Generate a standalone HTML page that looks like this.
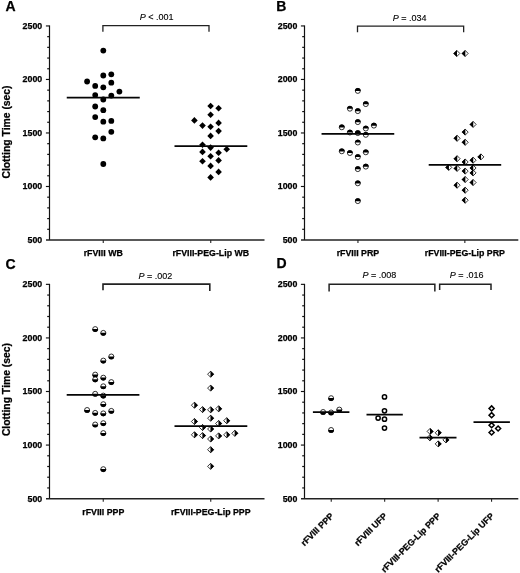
<!DOCTYPE html>
<html><head><meta charset="utf-8"><title>Clotting time figure</title>
<style>html,body{margin:0;padding:0;background:#fff;width:520px;height:573px;overflow:hidden;}svg{display:block;font-family:"Liberation Sans",sans-serif;font-kerning:none;filter:grayscale(1);}</style></head><body>
<svg width="520" height="573" viewBox="0 0 520 573">
<rect width="520" height="573" fill="#fff"/>
<text x="5.6" y="10.9" font-size="14" font-weight="bold" font-family="Liberation Sans, sans-serif" fill="#000" stroke="#000" stroke-width="0.25" stroke-linejoin="round">A</text>
<text transform="translate(9.6,132.00) rotate(-90)" text-anchor="middle" font-size="10.35" font-weight="bold" font-family="Liberation Sans, sans-serif" fill="#000" stroke="#000" stroke-width="0.25" stroke-linejoin="round">Clotting Time (sec)</text>
<line x1="49.5" y1="25.45" x2="49.5" y2="240.00" stroke="#111" stroke-width="1.2"/>
<line x1="46.00" y1="240.00" x2="264.5" y2="240.00" stroke="#222" stroke-width="1.5"/>
<line x1="47.20" y1="229.30" x2="49.5" y2="229.30" stroke="#111" stroke-width="1.2"/>
<line x1="47.20" y1="218.59" x2="49.5" y2="218.59" stroke="#111" stroke-width="1.2"/>
<line x1="47.20" y1="207.89" x2="49.5" y2="207.89" stroke="#111" stroke-width="1.2"/>
<line x1="47.20" y1="197.19" x2="49.5" y2="197.19" stroke="#111" stroke-width="1.2"/>
<line x1="45.90" y1="186.49" x2="49.5" y2="186.49" stroke="#111" stroke-width="1.15"/>
<line x1="47.20" y1="175.78" x2="49.5" y2="175.78" stroke="#111" stroke-width="1.2"/>
<line x1="47.20" y1="165.08" x2="49.5" y2="165.08" stroke="#111" stroke-width="1.2"/>
<line x1="47.20" y1="154.38" x2="49.5" y2="154.38" stroke="#111" stroke-width="1.2"/>
<line x1="47.20" y1="143.68" x2="49.5" y2="143.68" stroke="#111" stroke-width="1.2"/>
<line x1="45.90" y1="132.97" x2="49.5" y2="132.97" stroke="#111" stroke-width="1.15"/>
<line x1="47.20" y1="122.27" x2="49.5" y2="122.27" stroke="#111" stroke-width="1.2"/>
<line x1="47.20" y1="111.57" x2="49.5" y2="111.57" stroke="#111" stroke-width="1.2"/>
<line x1="47.20" y1="100.87" x2="49.5" y2="100.87" stroke="#111" stroke-width="1.2"/>
<line x1="47.20" y1="90.16" x2="49.5" y2="90.16" stroke="#111" stroke-width="1.2"/>
<line x1="45.90" y1="79.46" x2="49.5" y2="79.46" stroke="#111" stroke-width="1.15"/>
<line x1="47.20" y1="68.76" x2="49.5" y2="68.76" stroke="#111" stroke-width="1.2"/>
<line x1="47.20" y1="58.06" x2="49.5" y2="58.06" stroke="#111" stroke-width="1.2"/>
<line x1="47.20" y1="47.35" x2="49.5" y2="47.35" stroke="#111" stroke-width="1.2"/>
<line x1="47.20" y1="36.65" x2="49.5" y2="36.65" stroke="#111" stroke-width="1.2"/>
<line x1="45.90" y1="25.95" x2="49.5" y2="25.95" stroke="#111" stroke-width="1.15"/>
<text x="42.20" y="242.95" text-anchor="end" font-size="8.8" font-weight="bold" font-family="Liberation Sans, sans-serif" fill="#000" stroke="#000" stroke-width="0.25" stroke-linejoin="round">500</text>
<text x="42.20" y="189.44" text-anchor="end" font-size="8.8" font-weight="bold" font-family="Liberation Sans, sans-serif" fill="#000" stroke="#000" stroke-width="0.25" stroke-linejoin="round">1000</text>
<text x="42.20" y="135.92" text-anchor="end" font-size="8.8" font-weight="bold" font-family="Liberation Sans, sans-serif" fill="#000" stroke="#000" stroke-width="0.25" stroke-linejoin="round">1500</text>
<text x="42.20" y="82.41" text-anchor="end" font-size="8.8" font-weight="bold" font-family="Liberation Sans, sans-serif" fill="#000" stroke="#000" stroke-width="0.25" stroke-linejoin="round">2000</text>
<text x="42.20" y="28.90" text-anchor="end" font-size="8.8" font-weight="bold" font-family="Liberation Sans, sans-serif" fill="#000" stroke="#000" stroke-width="0.25" stroke-linejoin="round">2500</text>
<line x1="103.25" y1="240.00" x2="103.25" y2="243.00" stroke="#222" stroke-width="1.1"/>
<text x="103.25" y="256.40" text-anchor="middle" font-size="8.8" font-weight="bold" font-family="Liberation Sans, sans-serif" fill="#000" stroke="#000" stroke-width="0.25" stroke-linejoin="round">rFVIII WB</text>
<line x1="210.75" y1="240.00" x2="210.75" y2="243.00" stroke="#222" stroke-width="1.1"/>
<text x="210.75" y="256.40" text-anchor="middle" font-size="8.8" font-weight="bold" font-family="Liberation Sans, sans-serif" fill="#000" stroke="#000" stroke-width="0.25" stroke-linejoin="round">rFVIII-PEG-Lip WB</text>
<path d="M102.90,31.70 V25.70 H209.00 V31.80" fill="none" stroke="#222" stroke-width="1.3"/>
<text x="156.70" y="20.10" text-anchor="middle" font-size="9" font-family="Liberation Sans, sans-serif" fill="#000" stroke="#000" stroke-width="0.12"><tspan font-style="italic">P</tspan> &lt; .001</text>
<circle cx="103.30" cy="50.60" r="2.9" fill="#000"/>
<circle cx="103.30" cy="75.50" r="2.9" fill="#000"/>
<circle cx="111.30" cy="74.30" r="2.9" fill="#000"/>
<circle cx="87.10" cy="81.50" r="2.9" fill="#000"/>
<circle cx="111.30" cy="82.70" r="2.9" fill="#000"/>
<circle cx="95.20" cy="85.90" r="2.9" fill="#000"/>
<circle cx="103.30" cy="87.30" r="2.9" fill="#000"/>
<circle cx="119.40" cy="91.60" r="2.9" fill="#000"/>
<circle cx="95.20" cy="95.10" r="2.9" fill="#000"/>
<circle cx="111.30" cy="95.60" r="2.9" fill="#000"/>
<circle cx="103.30" cy="99.50" r="2.9" fill="#000"/>
<circle cx="95.20" cy="106.50" r="2.9" fill="#000"/>
<circle cx="103.30" cy="110.20" r="2.9" fill="#000"/>
<circle cx="95.20" cy="117.10" r="2.9" fill="#000"/>
<circle cx="103.30" cy="121.70" r="2.9" fill="#000"/>
<circle cx="111.30" cy="120.90" r="2.9" fill="#000"/>
<circle cx="111.30" cy="131.80" r="2.9" fill="#000"/>
<circle cx="95.20" cy="137.30" r="2.9" fill="#000"/>
<circle cx="103.30" cy="138.40" r="2.9" fill="#000"/>
<circle cx="103.30" cy="164.00" r="2.9" fill="#000"/>
<path d="M210.60,102.70 L213.90,106.00 L210.60,109.30 L207.30,106.00 Z" fill="#000"/>
<path d="M218.60,105.00 L221.90,108.30 L218.60,111.60 L215.30,108.30 Z" fill="#000"/>
<path d="M210.60,111.50 L213.90,114.80 L210.60,118.10 L207.30,114.80 Z" fill="#000"/>
<path d="M194.40,117.10 L197.70,120.40 L194.40,123.70 L191.10,120.40 Z" fill="#000"/>
<path d="M218.60,119.60 L221.90,122.90 L218.60,126.20 L215.30,122.90 Z" fill="#000"/>
<path d="M202.50,122.30 L205.80,125.60 L202.50,128.90 L199.20,125.60 Z" fill="#000"/>
<path d="M210.60,123.40 L213.90,126.70 L210.60,130.00 L207.30,126.70 Z" fill="#000"/>
<path d="M218.60,127.80 L221.90,131.10 L218.60,134.40 L215.30,131.10 Z" fill="#000"/>
<path d="M210.60,132.60 L213.90,135.90 L210.60,139.20 L207.30,135.90 Z" fill="#000"/>
<path d="M202.50,141.40 L205.80,144.70 L202.50,148.00 L199.20,144.70 Z" fill="#000"/>
<path d="M210.60,144.30 L213.90,147.60 L210.60,150.90 L207.30,147.60 Z" fill="#000"/>
<path d="M226.70,146.00 L230.00,149.30 L226.70,152.60 L223.40,149.30 Z" fill="#000"/>
<path d="M202.50,148.60 L205.80,151.90 L202.50,155.20 L199.20,151.90 Z" fill="#000"/>
<path d="M218.60,149.40 L221.90,152.70 L218.60,156.00 L215.30,152.70 Z" fill="#000"/>
<path d="M210.60,153.00 L213.90,156.30 L210.60,159.60 L207.30,156.30 Z" fill="#000"/>
<path d="M202.50,158.00 L205.80,161.30 L202.50,164.60 L199.20,161.30 Z" fill="#000"/>
<path d="M218.60,157.10 L221.90,160.40 L218.60,163.70 L215.30,160.40 Z" fill="#000"/>
<path d="M210.60,162.60 L213.90,165.90 L210.60,169.20 L207.30,165.90 Z" fill="#000"/>
<path d="M218.60,168.60 L221.90,171.90 L218.60,175.20 L215.30,171.90 Z" fill="#000"/>
<path d="M210.60,174.10 L213.90,177.40 L210.60,180.70 L207.30,177.40 Z" fill="#000"/>
<line x1="66.75" y1="97.65" x2="139.75" y2="97.65" stroke="#050505" stroke-width="1.75"/>
<line x1="174.50" y1="146.10" x2="247.30" y2="146.10" stroke="#050505" stroke-width="1.75"/>
<text x="276.2" y="10.9" font-size="14" font-weight="bold" font-family="Liberation Sans, sans-serif" fill="#000" stroke="#000" stroke-width="0.25" stroke-linejoin="round">B</text>
<line x1="304.5" y1="25.45" x2="304.5" y2="240.00" stroke="#111" stroke-width="1.2"/>
<line x1="301.00" y1="240.00" x2="518.3" y2="240.00" stroke="#222" stroke-width="1.5"/>
<line x1="302.20" y1="229.30" x2="304.5" y2="229.30" stroke="#111" stroke-width="1.2"/>
<line x1="302.20" y1="218.59" x2="304.5" y2="218.59" stroke="#111" stroke-width="1.2"/>
<line x1="302.20" y1="207.89" x2="304.5" y2="207.89" stroke="#111" stroke-width="1.2"/>
<line x1="302.20" y1="197.19" x2="304.5" y2="197.19" stroke="#111" stroke-width="1.2"/>
<line x1="300.90" y1="186.49" x2="304.5" y2="186.49" stroke="#111" stroke-width="1.15"/>
<line x1="302.20" y1="175.78" x2="304.5" y2="175.78" stroke="#111" stroke-width="1.2"/>
<line x1="302.20" y1="165.08" x2="304.5" y2="165.08" stroke="#111" stroke-width="1.2"/>
<line x1="302.20" y1="154.38" x2="304.5" y2="154.38" stroke="#111" stroke-width="1.2"/>
<line x1="302.20" y1="143.68" x2="304.5" y2="143.68" stroke="#111" stroke-width="1.2"/>
<line x1="300.90" y1="132.97" x2="304.5" y2="132.97" stroke="#111" stroke-width="1.15"/>
<line x1="302.20" y1="122.27" x2="304.5" y2="122.27" stroke="#111" stroke-width="1.2"/>
<line x1="302.20" y1="111.57" x2="304.5" y2="111.57" stroke="#111" stroke-width="1.2"/>
<line x1="302.20" y1="100.87" x2="304.5" y2="100.87" stroke="#111" stroke-width="1.2"/>
<line x1="302.20" y1="90.16" x2="304.5" y2="90.16" stroke="#111" stroke-width="1.2"/>
<line x1="300.90" y1="79.46" x2="304.5" y2="79.46" stroke="#111" stroke-width="1.15"/>
<line x1="302.20" y1="68.76" x2="304.5" y2="68.76" stroke="#111" stroke-width="1.2"/>
<line x1="302.20" y1="58.06" x2="304.5" y2="58.06" stroke="#111" stroke-width="1.2"/>
<line x1="302.20" y1="47.35" x2="304.5" y2="47.35" stroke="#111" stroke-width="1.2"/>
<line x1="302.20" y1="36.65" x2="304.5" y2="36.65" stroke="#111" stroke-width="1.2"/>
<line x1="300.90" y1="25.95" x2="304.5" y2="25.95" stroke="#111" stroke-width="1.15"/>
<text x="297.40" y="242.95" text-anchor="end" font-size="8.8" font-weight="bold" font-family="Liberation Sans, sans-serif" fill="#000" stroke="#000" stroke-width="0.25" stroke-linejoin="round">500</text>
<text x="297.40" y="189.44" text-anchor="end" font-size="8.8" font-weight="bold" font-family="Liberation Sans, sans-serif" fill="#000" stroke="#000" stroke-width="0.25" stroke-linejoin="round">1000</text>
<text x="297.40" y="135.92" text-anchor="end" font-size="8.8" font-weight="bold" font-family="Liberation Sans, sans-serif" fill="#000" stroke="#000" stroke-width="0.25" stroke-linejoin="round">1500</text>
<text x="297.40" y="82.41" text-anchor="end" font-size="8.8" font-weight="bold" font-family="Liberation Sans, sans-serif" fill="#000" stroke="#000" stroke-width="0.25" stroke-linejoin="round">2000</text>
<text x="297.40" y="28.90" text-anchor="end" font-size="8.8" font-weight="bold" font-family="Liberation Sans, sans-serif" fill="#000" stroke="#000" stroke-width="0.25" stroke-linejoin="round">2500</text>
<line x1="357.95" y1="240.00" x2="357.95" y2="243.00" stroke="#222" stroke-width="1.1"/>
<text x="357.95" y="256.40" text-anchor="middle" font-size="8.8" font-weight="bold" font-family="Liberation Sans, sans-serif" fill="#000" stroke="#000" stroke-width="0.25" stroke-linejoin="round">rFVIII PRP</text>
<line x1="464.85" y1="240.00" x2="464.85" y2="243.00" stroke="#222" stroke-width="1.1"/>
<text x="464.85" y="256.40" text-anchor="middle" font-size="8.8" font-weight="bold" font-family="Liberation Sans, sans-serif" fill="#000" stroke="#000" stroke-width="0.25" stroke-linejoin="round">rFVIII-PEG-Lip PRP</text>
<path d="M357.50,32.30 V26.10 H463.65 V32.20" fill="none" stroke="#222" stroke-width="1.3"/>
<text x="409.60" y="20.50" text-anchor="middle" font-size="9" font-family="Liberation Sans, sans-serif" fill="#000" stroke="#000" stroke-width="0.12"><tspan font-style="italic">P</tspan> = .034</text>
<circle cx="357.80" cy="90.90" r="2.50" fill="#fff" stroke="#000" stroke-width="0.8"/>
<path d="M354.90,91.00 A2.90,2.90 0 0 1 360.70,91.00 Z" fill="#000"/>
<circle cx="365.80" cy="104.10" r="2.50" fill="#fff" stroke="#000" stroke-width="0.8"/>
<path d="M362.90,104.20 A2.90,2.90 0 0 1 368.70,104.20 Z" fill="#000"/>
<circle cx="349.90" cy="108.70" r="2.50" fill="#fff" stroke="#000" stroke-width="0.8"/>
<path d="M347.00,108.80 A2.90,2.90 0 0 1 352.80,108.80 Z" fill="#000"/>
<circle cx="357.80" cy="111.10" r="2.50" fill="#fff" stroke="#000" stroke-width="0.8"/>
<path d="M354.90,111.20 A2.90,2.90 0 0 1 360.70,111.20 Z" fill="#000"/>
<circle cx="357.80" cy="122.10" r="2.50" fill="#fff" stroke="#000" stroke-width="0.8"/>
<path d="M354.90,122.20 A2.90,2.90 0 0 1 360.70,122.20 Z" fill="#000"/>
<circle cx="341.80" cy="127.30" r="2.50" fill="#fff" stroke="#000" stroke-width="0.8"/>
<path d="M338.90,127.40 A2.90,2.90 0 0 1 344.70,127.40 Z" fill="#000"/>
<circle cx="373.90" cy="125.60" r="2.50" fill="#fff" stroke="#000" stroke-width="0.8"/>
<path d="M371.00,125.70 A2.90,2.90 0 0 1 376.80,125.70 Z" fill="#000"/>
<circle cx="365.80" cy="128.50" r="2.50" fill="#fff" stroke="#000" stroke-width="0.8"/>
<path d="M362.90,128.60 A2.90,2.90 0 0 1 368.70,128.60 Z" fill="#000"/>
<circle cx="349.90" cy="132.50" r="2.50" fill="#fff" stroke="#000" stroke-width="0.8"/>
<path d="M347.00,132.60 A2.90,2.90 0 0 1 352.80,132.60 Z" fill="#000"/>
<circle cx="357.80" cy="133.10" r="2.50" fill="#fff" stroke="#000" stroke-width="0.8"/>
<path d="M354.90,133.20 A2.90,2.90 0 0 1 360.70,133.20 Z" fill="#000"/>
<circle cx="365.80" cy="134.80" r="2.50" fill="#fff" stroke="#000" stroke-width="0.8"/>
<path d="M362.90,134.90 A2.90,2.90 0 0 1 368.70,134.90 Z" fill="#000"/>
<circle cx="357.80" cy="142.50" r="2.50" fill="#fff" stroke="#000" stroke-width="0.8"/>
<path d="M354.90,142.60 A2.90,2.90 0 0 1 360.70,142.60 Z" fill="#000"/>
<circle cx="341.80" cy="151.30" r="2.50" fill="#fff" stroke="#000" stroke-width="0.8"/>
<path d="M338.90,151.40 A2.90,2.90 0 0 1 344.70,151.40 Z" fill="#000"/>
<circle cx="349.90" cy="153.00" r="2.50" fill="#fff" stroke="#000" stroke-width="0.8"/>
<path d="M347.00,153.10 A2.90,2.90 0 0 1 352.80,153.10 Z" fill="#000"/>
<circle cx="365.80" cy="152.30" r="2.50" fill="#fff" stroke="#000" stroke-width="0.8"/>
<path d="M362.90,152.40 A2.90,2.90 0 0 1 368.70,152.40 Z" fill="#000"/>
<circle cx="357.80" cy="157.00" r="2.50" fill="#fff" stroke="#000" stroke-width="0.8"/>
<path d="M354.90,157.10 A2.90,2.90 0 0 1 360.70,157.10 Z" fill="#000"/>
<circle cx="365.80" cy="166.60" r="2.50" fill="#fff" stroke="#000" stroke-width="0.8"/>
<path d="M362.90,166.70 A2.90,2.90 0 0 1 368.70,166.70 Z" fill="#000"/>
<circle cx="357.80" cy="169.10" r="2.50" fill="#fff" stroke="#000" stroke-width="0.8"/>
<path d="M354.90,169.20 A2.90,2.90 0 0 1 360.70,169.20 Z" fill="#000"/>
<circle cx="357.80" cy="183.30" r="2.50" fill="#fff" stroke="#000" stroke-width="0.8"/>
<path d="M354.90,183.40 A2.90,2.90 0 0 1 360.70,183.40 Z" fill="#000"/>
<circle cx="357.80" cy="201.10" r="2.50" fill="#fff" stroke="#000" stroke-width="0.8"/>
<path d="M354.90,201.20 A2.90,2.90 0 0 1 360.70,201.20 Z" fill="#000"/>
<path d="M456.85,50.45 L459.85,53.45 L456.85,56.45 L453.85,53.45 Z" fill="#fff" stroke="#000" stroke-width="0.8"/>
<path d="M457.00,50.00 L453.40,53.45 L457.00,56.90 Z" fill="#000"/>
<path d="M465.15,50.45 L468.15,53.45 L465.15,56.45 L462.15,53.45 Z" fill="#fff" stroke="#000" stroke-width="0.8"/>
<path d="M465.30,50.00 L461.70,53.45 L465.30,56.90 Z" fill="#000"/>
<path d="M473.10,121.40 L476.10,124.40 L473.10,127.40 L470.10,124.40 Z" fill="#fff" stroke="#000" stroke-width="0.8"/>
<path d="M473.25,120.95 L469.65,124.40 L473.25,127.85 Z" fill="#000"/>
<path d="M465.20,129.10 L468.20,132.10 L465.20,135.10 L462.20,132.10 Z" fill="#fff" stroke="#000" stroke-width="0.8"/>
<path d="M465.35,128.65 L461.75,132.10 L465.35,135.55 Z" fill="#000"/>
<path d="M457.10,135.30 L460.10,138.30 L457.10,141.30 L454.10,138.30 Z" fill="#fff" stroke="#000" stroke-width="0.8"/>
<path d="M457.25,134.85 L453.65,138.30 L457.25,141.75 Z" fill="#000"/>
<path d="M465.20,139.30 L468.20,142.30 L465.20,145.30 L462.20,142.30 Z" fill="#fff" stroke="#000" stroke-width="0.8"/>
<path d="M465.35,138.85 L461.75,142.30 L465.35,145.75 Z" fill="#000"/>
<path d="M457.10,155.70 L460.10,158.70 L457.10,161.70 L454.10,158.70 Z" fill="#fff" stroke="#000" stroke-width="0.8"/>
<path d="M457.25,155.25 L453.65,158.70 L457.25,162.15 Z" fill="#000"/>
<path d="M480.90,153.90 L483.90,156.90 L480.90,159.90 L477.90,156.90 Z" fill="#fff" stroke="#000" stroke-width="0.8"/>
<path d="M481.05,153.45 L477.45,156.90 L481.05,160.35 Z" fill="#000"/>
<path d="M465.20,159.00 L468.20,162.00 L465.20,165.00 L462.20,162.00 Z" fill="#fff" stroke="#000" stroke-width="0.8"/>
<path d="M465.35,158.55 L461.75,162.00 L465.35,165.45 Z" fill="#000"/>
<path d="M473.10,157.20 L476.10,160.20 L473.10,163.20 L470.10,160.20 Z" fill="#fff" stroke="#000" stroke-width="0.8"/>
<path d="M473.25,156.75 L469.65,160.20 L473.25,163.65 Z" fill="#000"/>
<path d="M448.80,164.40 L451.80,167.40 L448.80,170.40 L445.80,167.40 Z" fill="#fff" stroke="#000" stroke-width="0.8"/>
<path d="M448.95,163.95 L445.35,167.40 L448.95,170.85 Z" fill="#000"/>
<path d="M457.10,165.40 L460.10,168.40 L457.10,171.40 L454.10,168.40 Z" fill="#fff" stroke="#000" stroke-width="0.8"/>
<path d="M457.25,164.95 L453.65,168.40 L457.25,171.85 Z" fill="#000"/>
<path d="M473.10,165.00 L476.10,168.00 L473.10,171.00 L470.10,168.00 Z" fill="#fff" stroke="#000" stroke-width="0.8"/>
<path d="M473.25,164.55 L469.65,168.00 L473.25,171.45 Z" fill="#000"/>
<path d="M465.20,168.10 L468.20,171.10 L465.20,174.10 L462.20,171.10 Z" fill="#fff" stroke="#000" stroke-width="0.8"/>
<path d="M465.35,167.65 L461.75,171.10 L465.35,174.55 Z" fill="#000"/>
<path d="M473.10,169.90 L476.10,172.90 L473.10,175.90 L470.10,172.90 Z" fill="#fff" stroke="#000" stroke-width="0.8"/>
<path d="M473.25,169.45 L469.65,172.90 L473.25,176.35 Z" fill="#000"/>
<path d="M465.20,176.50 L468.20,179.50 L465.20,182.50 L462.20,179.50 Z" fill="#fff" stroke="#000" stroke-width="0.8"/>
<path d="M465.35,176.05 L461.75,179.50 L465.35,182.95 Z" fill="#000"/>
<path d="M473.10,179.50 L476.10,182.50 L473.10,185.50 L470.10,182.50 Z" fill="#fff" stroke="#000" stroke-width="0.8"/>
<path d="M473.25,179.05 L469.65,182.50 L473.25,185.95 Z" fill="#000"/>
<path d="M457.10,182.20 L460.10,185.20 L457.10,188.20 L454.10,185.20 Z" fill="#fff" stroke="#000" stroke-width="0.8"/>
<path d="M457.25,181.75 L453.65,185.20 L457.25,188.65 Z" fill="#000"/>
<path d="M465.20,187.20 L468.20,190.20 L465.20,193.20 L462.20,190.20 Z" fill="#fff" stroke="#000" stroke-width="0.8"/>
<path d="M465.35,186.75 L461.75,190.20 L465.35,193.65 Z" fill="#000"/>
<path d="M465.20,197.20 L468.20,200.20 L465.20,203.20 L462.20,200.20 Z" fill="#fff" stroke="#000" stroke-width="0.8"/>
<path d="M465.35,196.75 L461.75,200.20 L465.35,203.65 Z" fill="#000"/>
<line x1="321.55" y1="133.90" x2="394.25" y2="133.90" stroke="#050505" stroke-width="1.75"/>
<line x1="428.70" y1="164.95" x2="501.20" y2="164.95" stroke="#050505" stroke-width="1.75"/>
<text x="5.6" y="269.3" font-size="14" font-weight="bold" font-family="Liberation Sans, sans-serif" fill="#000" stroke="#000" stroke-width="0.25" stroke-linejoin="round">C</text>
<text transform="translate(9.6,389.55) rotate(-90)" text-anchor="middle" font-size="10.35" font-weight="bold" font-family="Liberation Sans, sans-serif" fill="#000" stroke="#000" stroke-width="0.25" stroke-linejoin="round">Clotting Time (sec)</text>
<line x1="49.5" y1="283.85" x2="49.5" y2="498.65" stroke="#111" stroke-width="1.2"/>
<line x1="46.00" y1="498.65" x2="264.5" y2="498.65" stroke="#222" stroke-width="1.5"/>
<line x1="47.20" y1="487.94" x2="49.5" y2="487.94" stroke="#111" stroke-width="1.2"/>
<line x1="47.20" y1="477.22" x2="49.5" y2="477.22" stroke="#111" stroke-width="1.2"/>
<line x1="47.20" y1="466.50" x2="49.5" y2="466.50" stroke="#111" stroke-width="1.2"/>
<line x1="47.20" y1="455.79" x2="49.5" y2="455.79" stroke="#111" stroke-width="1.2"/>
<line x1="45.90" y1="445.07" x2="49.5" y2="445.07" stroke="#111" stroke-width="1.15"/>
<line x1="47.20" y1="434.36" x2="49.5" y2="434.36" stroke="#111" stroke-width="1.2"/>
<line x1="47.20" y1="423.64" x2="49.5" y2="423.64" stroke="#111" stroke-width="1.2"/>
<line x1="47.20" y1="412.93" x2="49.5" y2="412.93" stroke="#111" stroke-width="1.2"/>
<line x1="47.20" y1="402.21" x2="49.5" y2="402.21" stroke="#111" stroke-width="1.2"/>
<line x1="45.90" y1="391.50" x2="49.5" y2="391.50" stroke="#111" stroke-width="1.15"/>
<line x1="47.20" y1="380.79" x2="49.5" y2="380.79" stroke="#111" stroke-width="1.2"/>
<line x1="47.20" y1="370.07" x2="49.5" y2="370.07" stroke="#111" stroke-width="1.2"/>
<line x1="47.20" y1="359.36" x2="49.5" y2="359.36" stroke="#111" stroke-width="1.2"/>
<line x1="47.20" y1="348.64" x2="49.5" y2="348.64" stroke="#111" stroke-width="1.2"/>
<line x1="45.90" y1="337.93" x2="49.5" y2="337.93" stroke="#111" stroke-width="1.15"/>
<line x1="47.20" y1="327.21" x2="49.5" y2="327.21" stroke="#111" stroke-width="1.2"/>
<line x1="47.20" y1="316.50" x2="49.5" y2="316.50" stroke="#111" stroke-width="1.2"/>
<line x1="47.20" y1="305.78" x2="49.5" y2="305.78" stroke="#111" stroke-width="1.2"/>
<line x1="47.20" y1="295.06" x2="49.5" y2="295.06" stroke="#111" stroke-width="1.2"/>
<line x1="45.90" y1="284.35" x2="49.5" y2="284.35" stroke="#111" stroke-width="1.15"/>
<text x="42.20" y="501.60" text-anchor="end" font-size="8.8" font-weight="bold" font-family="Liberation Sans, sans-serif" fill="#000" stroke="#000" stroke-width="0.25" stroke-linejoin="round">500</text>
<text x="42.20" y="448.02" text-anchor="end" font-size="8.8" font-weight="bold" font-family="Liberation Sans, sans-serif" fill="#000" stroke="#000" stroke-width="0.25" stroke-linejoin="round">1000</text>
<text x="42.20" y="394.45" text-anchor="end" font-size="8.8" font-weight="bold" font-family="Liberation Sans, sans-serif" fill="#000" stroke="#000" stroke-width="0.25" stroke-linejoin="round">1500</text>
<text x="42.20" y="340.88" text-anchor="end" font-size="8.8" font-weight="bold" font-family="Liberation Sans, sans-serif" fill="#000" stroke="#000" stroke-width="0.25" stroke-linejoin="round">2000</text>
<text x="42.20" y="287.30" text-anchor="end" font-size="8.8" font-weight="bold" font-family="Liberation Sans, sans-serif" fill="#000" stroke="#000" stroke-width="0.25" stroke-linejoin="round">2500</text>
<line x1="103.25" y1="498.65" x2="103.25" y2="501.65" stroke="#222" stroke-width="1.1"/>
<text x="103.25" y="515.05" text-anchor="middle" font-size="8.8" font-weight="bold" font-family="Liberation Sans, sans-serif" fill="#000" stroke="#000" stroke-width="0.25" stroke-linejoin="round">rFVIII PPP</text>
<line x1="210.75" y1="498.65" x2="210.75" y2="501.65" stroke="#222" stroke-width="1.1"/>
<text x="210.75" y="515.05" text-anchor="middle" font-size="8.8" font-weight="bold" font-family="Liberation Sans, sans-serif" fill="#000" stroke="#000" stroke-width="0.25" stroke-linejoin="round">rFVIII-PEG-Lip PPP</text>
<path d="M103.00,290.30 V284.10 H209.80 V291.00" fill="none" stroke="#222" stroke-width="1.6"/>
<text x="155.40" y="278.50" text-anchor="middle" font-size="9" font-family="Liberation Sans, sans-serif" fill="#000" stroke="#000" stroke-width="0.12"><tspan font-style="italic">P</tspan> = .002</text>
<circle cx="95.20" cy="329.10" r="2.50" fill="#fff" stroke="#000" stroke-width="0.8"/>
<path d="M92.30,329.00 A2.90,2.90 0 0 0 98.10,329.00 Z" fill="#000"/>
<circle cx="103.30" cy="332.90" r="2.50" fill="#fff" stroke="#000" stroke-width="0.8"/>
<path d="M100.40,332.80 A2.90,2.90 0 0 0 106.20,332.80 Z" fill="#000"/>
<circle cx="111.30" cy="356.50" r="2.50" fill="#fff" stroke="#000" stroke-width="0.8"/>
<path d="M108.40,356.40 A2.90,2.90 0 0 0 114.20,356.40 Z" fill="#000"/>
<circle cx="103.30" cy="360.60" r="2.50" fill="#fff" stroke="#000" stroke-width="0.8"/>
<path d="M100.40,360.50 A2.90,2.90 0 0 0 106.20,360.50 Z" fill="#000"/>
<circle cx="95.20" cy="374.60" r="2.50" fill="#fff" stroke="#000" stroke-width="0.8"/>
<path d="M92.30,374.50 A2.90,2.90 0 0 0 98.10,374.50 Z" fill="#000"/>
<circle cx="95.20" cy="379.40" r="2.50" fill="#fff" stroke="#000" stroke-width="0.8"/>
<path d="M92.30,379.30 A2.90,2.90 0 0 0 98.10,379.30 Z" fill="#000"/>
<circle cx="103.30" cy="377.70" r="2.50" fill="#fff" stroke="#000" stroke-width="0.8"/>
<path d="M100.40,377.60 A2.90,2.90 0 0 0 106.20,377.60 Z" fill="#000"/>
<circle cx="111.30" cy="382.10" r="2.50" fill="#fff" stroke="#000" stroke-width="0.8"/>
<path d="M108.40,382.00 A2.90,2.90 0 0 0 114.20,382.00 Z" fill="#000"/>
<circle cx="103.30" cy="386.30" r="2.50" fill="#fff" stroke="#000" stroke-width="0.8"/>
<path d="M100.40,386.20 A2.90,2.90 0 0 0 106.20,386.20 Z" fill="#000"/>
<circle cx="95.20" cy="393.80" r="2.50" fill="#fff" stroke="#000" stroke-width="0.8"/>
<path d="M92.30,393.70 A2.90,2.90 0 0 0 98.10,393.70 Z" fill="#000"/>
<circle cx="103.30" cy="395.60" r="2.50" fill="#fff" stroke="#000" stroke-width="0.8"/>
<path d="M100.40,395.50 A2.90,2.90 0 0 0 106.20,395.50 Z" fill="#000"/>
<circle cx="103.30" cy="404.20" r="2.50" fill="#fff" stroke="#000" stroke-width="0.8"/>
<path d="M100.40,404.10 A2.90,2.90 0 0 0 106.20,404.10 Z" fill="#000"/>
<circle cx="87.10" cy="410.00" r="2.50" fill="#fff" stroke="#000" stroke-width="0.8"/>
<path d="M84.20,409.90 A2.90,2.90 0 0 0 90.00,409.90 Z" fill="#000"/>
<circle cx="111.30" cy="410.90" r="2.50" fill="#fff" stroke="#000" stroke-width="0.8"/>
<path d="M108.40,410.80 A2.90,2.90 0 0 0 114.20,410.80 Z" fill="#000"/>
<circle cx="95.20" cy="412.90" r="2.50" fill="#fff" stroke="#000" stroke-width="0.8"/>
<path d="M92.30,412.80 A2.90,2.90 0 0 0 98.10,412.80 Z" fill="#000"/>
<circle cx="103.30" cy="413.40" r="2.50" fill="#fff" stroke="#000" stroke-width="0.8"/>
<path d="M100.40,413.30 A2.90,2.90 0 0 0 106.20,413.30 Z" fill="#000"/>
<circle cx="95.20" cy="424.50" r="2.50" fill="#fff" stroke="#000" stroke-width="0.8"/>
<path d="M92.30,424.40 A2.90,2.90 0 0 0 98.10,424.40 Z" fill="#000"/>
<circle cx="103.30" cy="423.20" r="2.50" fill="#fff" stroke="#000" stroke-width="0.8"/>
<path d="M100.40,423.10 A2.90,2.90 0 0 0 106.20,423.10 Z" fill="#000"/>
<circle cx="103.30" cy="433.10" r="2.50" fill="#fff" stroke="#000" stroke-width="0.8"/>
<path d="M100.40,433.00 A2.90,2.90 0 0 0 106.20,433.00 Z" fill="#000"/>
<circle cx="103.30" cy="469.20" r="2.50" fill="#fff" stroke="#000" stroke-width="0.8"/>
<path d="M100.40,469.10 A2.90,2.90 0 0 0 106.20,469.10 Z" fill="#000"/>
<path d="M210.60,371.20 L213.60,374.20 L210.60,377.20 L207.60,374.20 Z" fill="#fff" stroke="#000" stroke-width="0.8"/>
<path d="M210.45,370.75 L214.05,374.20 L210.45,377.65 Z" fill="#000"/>
<path d="M210.60,385.10 L213.60,388.10 L210.60,391.10 L207.60,388.10 Z" fill="#fff" stroke="#000" stroke-width="0.8"/>
<path d="M210.45,384.65 L214.05,388.10 L210.45,391.55 Z" fill="#000"/>
<path d="M194.40,402.20 L197.40,405.20 L194.40,408.20 L191.40,405.20 Z" fill="#fff" stroke="#000" stroke-width="0.8"/>
<path d="M194.25,401.75 L197.85,405.20 L194.25,408.65 Z" fill="#000"/>
<path d="M202.50,406.60 L205.50,409.60 L202.50,412.60 L199.50,409.60 Z" fill="#fff" stroke="#000" stroke-width="0.8"/>
<path d="M202.35,406.15 L205.95,409.60 L202.35,413.05 Z" fill="#000"/>
<path d="M210.60,406.80 L213.60,409.80 L210.60,412.80 L207.60,409.80 Z" fill="#fff" stroke="#000" stroke-width="0.8"/>
<path d="M210.45,406.35 L214.05,409.80 L210.45,413.25 Z" fill="#000"/>
<path d="M218.60,405.80 L221.60,408.80 L218.60,411.80 L215.60,408.80 Z" fill="#fff" stroke="#000" stroke-width="0.8"/>
<path d="M218.45,405.35 L222.05,408.80 L218.45,412.25 Z" fill="#000"/>
<path d="M210.60,415.20 L213.60,418.20 L210.60,421.20 L207.60,418.20 Z" fill="#fff" stroke="#000" stroke-width="0.8"/>
<path d="M210.45,414.75 L214.05,418.20 L210.45,421.65 Z" fill="#000"/>
<path d="M194.40,418.50 L197.40,421.50 L194.40,424.50 L191.40,421.50 Z" fill="#fff" stroke="#000" stroke-width="0.8"/>
<path d="M194.25,418.05 L197.85,421.50 L194.25,424.95 Z" fill="#000"/>
<path d="M226.70,417.70 L229.70,420.70 L226.70,423.70 L223.70,420.70 Z" fill="#fff" stroke="#000" stroke-width="0.8"/>
<path d="M226.55,417.25 L230.15,420.70 L226.55,424.15 Z" fill="#000"/>
<path d="M218.60,420.50 L221.60,423.50 L218.60,426.50 L215.60,423.50 Z" fill="#fff" stroke="#000" stroke-width="0.8"/>
<path d="M218.45,420.05 L222.05,423.50 L218.45,426.95 Z" fill="#000"/>
<path d="M202.50,424.50 L205.50,427.50 L202.50,430.50 L199.50,427.50 Z" fill="#fff" stroke="#000" stroke-width="0.8"/>
<path d="M202.35,424.05 L205.95,427.50 L202.35,430.95 Z" fill="#000"/>
<path d="M210.60,426.00 L213.60,429.00 L210.60,432.00 L207.60,429.00 Z" fill="#fff" stroke="#000" stroke-width="0.8"/>
<path d="M210.45,425.55 L214.05,429.00 L210.45,432.45 Z" fill="#000"/>
<path d="M194.40,431.80 L197.40,434.80 L194.40,437.80 L191.40,434.80 Z" fill="#fff" stroke="#000" stroke-width="0.8"/>
<path d="M194.25,431.35 L197.85,434.80 L194.25,438.25 Z" fill="#000"/>
<path d="M202.50,432.60 L205.50,435.60 L202.50,438.60 L199.50,435.60 Z" fill="#fff" stroke="#000" stroke-width="0.8"/>
<path d="M202.35,432.15 L205.95,435.60 L202.35,439.05 Z" fill="#000"/>
<path d="M218.60,432.90 L221.60,435.90 L218.60,438.90 L215.60,435.90 Z" fill="#fff" stroke="#000" stroke-width="0.8"/>
<path d="M218.45,432.45 L222.05,435.90 L218.45,439.35 Z" fill="#000"/>
<path d="M226.70,431.80 L229.70,434.80 L226.70,437.80 L223.70,434.80 Z" fill="#fff" stroke="#000" stroke-width="0.8"/>
<path d="M226.55,431.35 L230.15,434.80 L226.55,438.25 Z" fill="#000"/>
<path d="M234.80,430.30 L237.80,433.30 L234.80,436.30 L231.80,433.30 Z" fill="#fff" stroke="#000" stroke-width="0.8"/>
<path d="M234.65,429.85 L238.25,433.30 L234.65,436.75 Z" fill="#000"/>
<path d="M210.60,436.00 L213.60,439.00 L210.60,442.00 L207.60,439.00 Z" fill="#fff" stroke="#000" stroke-width="0.8"/>
<path d="M210.45,435.55 L214.05,439.00 L210.45,442.45 Z" fill="#000"/>
<path d="M210.60,446.70 L213.60,449.70 L210.60,452.70 L207.60,449.70 Z" fill="#fff" stroke="#000" stroke-width="0.8"/>
<path d="M210.45,446.25 L214.05,449.70 L210.45,453.15 Z" fill="#000"/>
<path d="M210.60,463.35 L213.60,466.35 L210.60,469.35 L207.60,466.35 Z" fill="#fff" stroke="#000" stroke-width="0.8"/>
<path d="M210.45,462.90 L214.05,466.35 L210.45,469.80 Z" fill="#000"/>
<line x1="66.70" y1="394.80" x2="139.40" y2="394.80" stroke="#050505" stroke-width="1.75"/>
<line x1="174.50" y1="426.00" x2="247.30" y2="426.00" stroke="#050505" stroke-width="1.75"/>
<text x="276.6" y="267.9" font-size="14" font-weight="bold" font-family="Liberation Sans, sans-serif" fill="#000" stroke="#000" stroke-width="0.25" stroke-linejoin="round">D</text>
<line x1="304.5" y1="283.85" x2="304.5" y2="498.65" stroke="#111" stroke-width="1.2"/>
<line x1="301.00" y1="498.65" x2="518.3" y2="498.65" stroke="#222" stroke-width="1.5"/>
<line x1="302.20" y1="487.94" x2="304.5" y2="487.94" stroke="#111" stroke-width="1.2"/>
<line x1="302.20" y1="477.22" x2="304.5" y2="477.22" stroke="#111" stroke-width="1.2"/>
<line x1="302.20" y1="466.50" x2="304.5" y2="466.50" stroke="#111" stroke-width="1.2"/>
<line x1="302.20" y1="455.79" x2="304.5" y2="455.79" stroke="#111" stroke-width="1.2"/>
<line x1="300.90" y1="445.07" x2="304.5" y2="445.07" stroke="#111" stroke-width="1.15"/>
<line x1="302.20" y1="434.36" x2="304.5" y2="434.36" stroke="#111" stroke-width="1.2"/>
<line x1="302.20" y1="423.64" x2="304.5" y2="423.64" stroke="#111" stroke-width="1.2"/>
<line x1="302.20" y1="412.93" x2="304.5" y2="412.93" stroke="#111" stroke-width="1.2"/>
<line x1="302.20" y1="402.21" x2="304.5" y2="402.21" stroke="#111" stroke-width="1.2"/>
<line x1="300.90" y1="391.50" x2="304.5" y2="391.50" stroke="#111" stroke-width="1.15"/>
<line x1="302.20" y1="380.79" x2="304.5" y2="380.79" stroke="#111" stroke-width="1.2"/>
<line x1="302.20" y1="370.07" x2="304.5" y2="370.07" stroke="#111" stroke-width="1.2"/>
<line x1="302.20" y1="359.36" x2="304.5" y2="359.36" stroke="#111" stroke-width="1.2"/>
<line x1="302.20" y1="348.64" x2="304.5" y2="348.64" stroke="#111" stroke-width="1.2"/>
<line x1="300.90" y1="337.93" x2="304.5" y2="337.93" stroke="#111" stroke-width="1.15"/>
<line x1="302.20" y1="327.21" x2="304.5" y2="327.21" stroke="#111" stroke-width="1.2"/>
<line x1="302.20" y1="316.50" x2="304.5" y2="316.50" stroke="#111" stroke-width="1.2"/>
<line x1="302.20" y1="305.78" x2="304.5" y2="305.78" stroke="#111" stroke-width="1.2"/>
<line x1="302.20" y1="295.06" x2="304.5" y2="295.06" stroke="#111" stroke-width="1.2"/>
<line x1="300.90" y1="284.35" x2="304.5" y2="284.35" stroke="#111" stroke-width="1.15"/>
<text x="297.40" y="501.60" text-anchor="end" font-size="8.8" font-weight="bold" font-family="Liberation Sans, sans-serif" fill="#000" stroke="#000" stroke-width="0.25" stroke-linejoin="round">500</text>
<text x="297.40" y="448.02" text-anchor="end" font-size="8.8" font-weight="bold" font-family="Liberation Sans, sans-serif" fill="#000" stroke="#000" stroke-width="0.25" stroke-linejoin="round">1000</text>
<text x="297.40" y="394.45" text-anchor="end" font-size="8.8" font-weight="bold" font-family="Liberation Sans, sans-serif" fill="#000" stroke="#000" stroke-width="0.25" stroke-linejoin="round">1500</text>
<text x="297.40" y="340.88" text-anchor="end" font-size="8.8" font-weight="bold" font-family="Liberation Sans, sans-serif" fill="#000" stroke="#000" stroke-width="0.25" stroke-linejoin="round">2000</text>
<text x="297.40" y="287.30" text-anchor="end" font-size="8.8" font-weight="bold" font-family="Liberation Sans, sans-serif" fill="#000" stroke="#000" stroke-width="0.25" stroke-linejoin="round">2500</text>
<line x1="331.23" y1="498.65" x2="331.23" y2="501.65" stroke="#222" stroke-width="1.1"/>
<text transform="translate(334.23,516.65) rotate(-45)" text-anchor="end" font-size="8.8" font-weight="bold" font-family="Liberation Sans, sans-serif" fill="#000" stroke="#000" stroke-width="0.25" stroke-linejoin="round">rFVIII PPP</text>
<line x1="384.67" y1="498.65" x2="384.67" y2="501.65" stroke="#222" stroke-width="1.1"/>
<text transform="translate(387.67,516.65) rotate(-45)" text-anchor="end" font-size="8.8" font-weight="bold" font-family="Liberation Sans, sans-serif" fill="#000" stroke="#000" stroke-width="0.25" stroke-linejoin="round">rFVIII UFP</text>
<line x1="438.12" y1="498.65" x2="438.12" y2="501.65" stroke="#222" stroke-width="1.1"/>
<text transform="translate(441.12,516.65) rotate(-45)" text-anchor="end" font-size="8.8" font-weight="bold" font-family="Liberation Sans, sans-serif" fill="#000" stroke="#000" stroke-width="0.25" stroke-linejoin="round">rFVIII-PEG-Lip PPP</text>
<line x1="491.57" y1="498.65" x2="491.57" y2="501.65" stroke="#222" stroke-width="1.1"/>
<text transform="translate(494.57,516.65) rotate(-45)" text-anchor="end" font-size="8.8" font-weight="bold" font-family="Liberation Sans, sans-serif" fill="#000" stroke="#000" stroke-width="0.25" stroke-linejoin="round">rFVIII-PEG-Lip UFP</text>
<path d="M329.10,291.60 V284.30 H434.85 V291.40" fill="none" stroke="#222" stroke-width="1.5"/>
<text x="379.30" y="278.20" text-anchor="middle" font-size="9" font-family="Liberation Sans, sans-serif" fill="#000" stroke="#000" stroke-width="0.12"><tspan font-style="italic">P</tspan> = .008</text>
<path d="M439.65,290.10 V284.30 H491.00 V289.90" fill="none" stroke="#222" stroke-width="1.5"/>
<text x="466.60" y="278.20" text-anchor="middle" font-size="9" font-family="Liberation Sans, sans-serif" fill="#000" stroke="#000" stroke-width="0.12"><tspan font-style="italic">P</tspan> = .016</text>
<circle cx="331.10" cy="398.20" r="2.50" fill="#fff" stroke="#000" stroke-width="0.8"/>
<path d="M328.20,398.10 A2.90,2.90 0 0 0 334.00,398.10 Z" fill="#000"/>
<circle cx="323.10" cy="412.00" r="2.50" fill="#fff" stroke="#000" stroke-width="0.8"/>
<path d="M320.20,411.90 A2.90,2.90 0 0 0 326.00,411.90 Z" fill="#000"/>
<circle cx="331.10" cy="412.50" r="2.50" fill="#fff" stroke="#000" stroke-width="0.8"/>
<path d="M328.20,412.40 A2.90,2.90 0 0 0 334.00,412.40 Z" fill="#000"/>
<circle cx="339.30" cy="409.60" r="2.50" fill="#fff" stroke="#000" stroke-width="0.8"/>
<path d="M336.40,409.50 A2.90,2.90 0 0 0 342.20,409.50 Z" fill="#000"/>
<circle cx="331.10" cy="430.00" r="2.50" fill="#fff" stroke="#000" stroke-width="0.8"/>
<path d="M328.20,429.90 A2.90,2.90 0 0 0 334.00,429.90 Z" fill="#000"/>
<circle cx="384.50" cy="396.90" r="2.1" fill="#fff" stroke="#000" stroke-width="1.5"/>
<circle cx="384.50" cy="410.80" r="2.1" fill="#fff" stroke="#000" stroke-width="1.5"/>
<circle cx="378.10" cy="418.10" r="2.1" fill="#fff" stroke="#000" stroke-width="1.5"/>
<circle cx="384.50" cy="419.20" r="2.1" fill="#fff" stroke="#000" stroke-width="1.5"/>
<circle cx="384.50" cy="428.10" r="2.1" fill="#fff" stroke="#000" stroke-width="1.5"/>
<path d="M430.10,428.40 L433.10,431.40 L430.10,434.40 L427.10,431.40 Z" fill="#fff" stroke="#000" stroke-width="0.8"/>
<path d="M429.95,427.95 L433.55,431.40 L429.95,434.85 Z" fill="#000"/>
<path d="M438.20,429.80 L441.20,432.80 L438.20,435.80 L435.20,432.80 Z" fill="#fff" stroke="#000" stroke-width="0.8"/>
<path d="M438.05,429.35 L441.65,432.80 L438.05,436.25 Z" fill="#000"/>
<path d="M429.80,434.80 L432.80,437.80 L429.80,440.80 L426.80,437.80 Z" fill="#fff" stroke="#000" stroke-width="0.8"/>
<path d="M429.65,434.35 L433.25,437.80 L429.65,441.25 Z" fill="#000"/>
<path d="M445.90,436.90 L448.90,439.90 L445.90,442.90 L442.90,439.90 Z" fill="#fff" stroke="#000" stroke-width="0.8"/>
<path d="M445.75,436.45 L449.35,439.90 L445.75,443.35 Z" fill="#000"/>
<path d="M438.20,440.90 L441.20,443.90 L438.20,446.90 L435.20,443.90 Z" fill="#fff" stroke="#000" stroke-width="0.8"/>
<path d="M438.05,440.45 L441.65,443.90 L438.05,447.35 Z" fill="#000"/>
<path d="M491.60,405.85 L494.15,408.40 L491.60,410.95 L489.05,408.40 Z" fill="#fff" stroke="#000" stroke-width="1.5" stroke-linejoin="miter"/>
<path d="M491.60,412.65 L494.15,415.20 L491.60,417.75 L489.05,415.20 Z" fill="#fff" stroke="#000" stroke-width="1.5" stroke-linejoin="miter"/>
<path d="M491.60,422.65 L494.15,425.20 L491.60,427.75 L489.05,425.20 Z" fill="#fff" stroke="#000" stroke-width="1.5" stroke-linejoin="miter"/>
<path d="M498.10,425.95 L500.65,428.50 L498.10,431.05 L495.55,428.50 Z" fill="#fff" stroke="#000" stroke-width="1.5" stroke-linejoin="miter"/>
<path d="M491.60,429.95 L494.15,432.50 L491.60,435.05 L489.05,432.50 Z" fill="#fff" stroke="#000" stroke-width="1.5" stroke-linejoin="miter"/>
<line x1="312.90" y1="412.20" x2="349.40" y2="412.20" stroke="#050505" stroke-width="1.75"/>
<line x1="366.50" y1="414.60" x2="402.80" y2="414.60" stroke="#050505" stroke-width="1.75"/>
<line x1="419.50" y1="437.60" x2="456.50" y2="437.60" stroke="#050505" stroke-width="1.75"/>
<line x1="473.50" y1="422.00" x2="509.90" y2="422.00" stroke="#050505" stroke-width="1.75"/>
</svg>
</body></html>
